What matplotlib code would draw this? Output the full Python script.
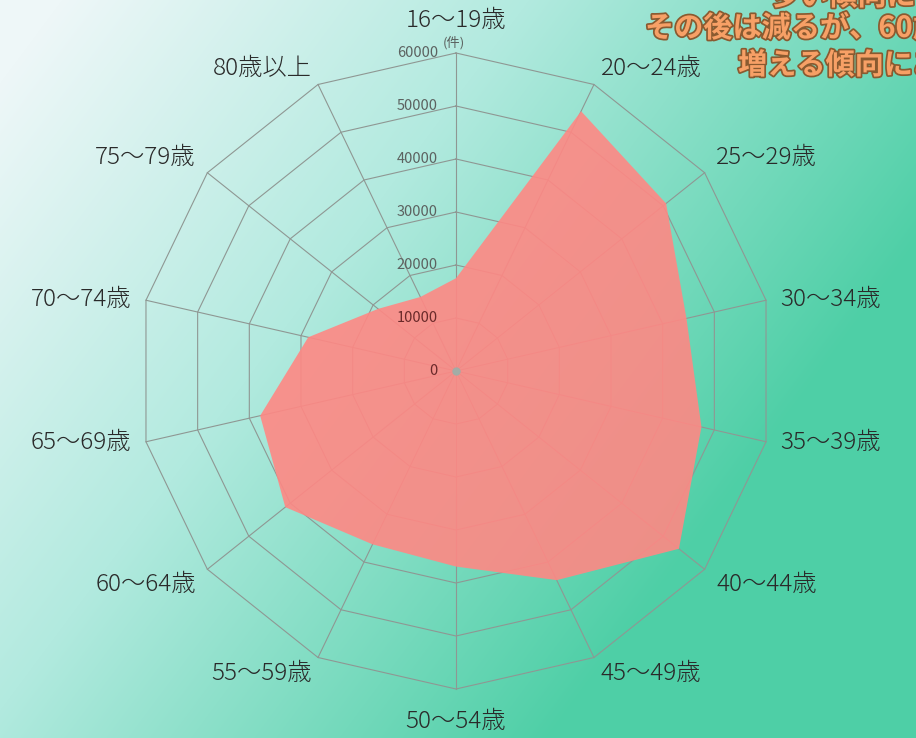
import numpy as np
import matplotlib.pyplot as plt
from matplotlib import patheffects

# 日本語フォント
plt.rcParams['font.family'] = ['Noto Sans CJK JP', 'DejaVu Sans']

# 年齢層別の件数
categories = ['16～19歳', '20～24歳', '25～29歳', '30～34歳', '35～39歳', '40～44歳', '45～49歳',
              '50～54歳', '55～59歳', '60～64歳', '65～69歳', '70～74歳', '75～79歳', '80歳以上']
counts = [17500, 54400, 50700, 44600, 47500, 53800, 43800,
          36900, 36300, 41200, 37900, 28600, 18800, 15500]
ring_values = [0, 10000, 20000, 30000, 40000, 50000, 60000]
note_lines = ['多い傾向にあ', 'その後は減るが、60歳', '増える傾向にあ']

W, H = 916, 738
fig = plt.figure(figsize=(W / 100, H / 100), dpi=100)

# 背景グラデーション（左上が明るく、右下が緑）
bg = fig.add_axes([0, 0, 1, 1])
bg.axis('off')
yy, xx = np.mgrid[0:H, 0:W]
t = 0.75 * xx / W + 0.45 * yy / H
t = np.clip((t - 0.05) / 0.85, 0, 1)
stops = [0, 0.45, 1]
cols = np.array([[238, 247, 248], [178, 234, 223], [78, 207, 166]]) / 255
img = np.stack([np.interp(t, stops, cols[:, k]) for k in range(3)], axis=-1)
bg.imshow(img, aspect='auto')

# レーダーチャート
cx, cy, R = 456, 371, 318
ax = fig.add_axes([(cx - R) / W, (H - cy - R) / H, 2 * R / W, 2 * R / H], projection='polar')
ax.patch.set_alpha(0)
ax.set_theta_zero_location('N')
ax.set_theta_direction(-1)
ax.set_ylim(0, ring_values[-1])
ax.grid(False)
ax.set_xticks([])
ax.set_yticks([])
ax.spines['polar'].set_visible(False)

n = len(categories)
theta = np.arange(n) * 2 * np.pi / n
closed = np.append(theta, theta[0])

grid_kw = dict(color='#8f9793', lw=0.8, clip_on=False, zorder=1)
for v in ring_values[1:]:
    ax.plot(closed, [v] * (n + 1), **grid_kw)
for th in theta:
    ax.plot([th, th], [0, ring_values[-1]], **grid_kw)

ax.fill(closed, np.append(counts, counts[0]), color='#FF8884', alpha=0.9, lw=0, zorder=2)
ax.plot(0, 0, 'o', ms=5, color='#a3aca6', zorder=3)

# 目盛りラベル
for v in ring_values:
    col = '#6a2a2a' if v <= 10000 else '#5c6260'
    ax.annotate(f'{v}', xy=(0, v), xytext=(-18, 0), textcoords='offset pixels',
                ha='right', va='center', fontsize=10.5, color=col, zorder=4,
                annotation_clip=False)
ax.annotate('(件)', xy=(0, ring_values[-1]), xytext=(-2, 10), textcoords='offset pixels',
            ha='center', va='center', fontsize=9.5, color='#5c6260', annotation_clip=False)

# 項目ラベル
for th, lab in zip(theta, categories):
    s, c = np.sin(th), np.cos(th)
    ha = 'left' if s > 0.3 else ('right' if s < -0.3 else 'center')
    va = 'bottom' if c > 0.3 else ('top' if c < -0.3 else 'center')
    if abs(s) < 0.3:
        off = (0, 20 * c)
    else:
        off = (15 * s, 4 * c)
    ax.annotate(lab, xy=(th, ring_values[-1]), xytext=off, textcoords='offset pixels',
                ha=ha, va=va, fontsize=17.5, fontweight='light', color='#2a2a2a',
                annotation_clip=False)

# 右上の説明文（画面の端で切れている）
note_pos = [(770, -4), (645, 28), (738, 65)]
for (x, y), line in zip(note_pos, note_lines):
    fig.text(x / W, 1 - y / H, line, ha='left', va='center', fontsize=21,
             fontweight='bold', color='#F7A066',
             path_effects=[patheffects.withStroke(linewidth=2.5, foreground='#8a5a30')])

fig.savefig('out.png', dpi=100)
